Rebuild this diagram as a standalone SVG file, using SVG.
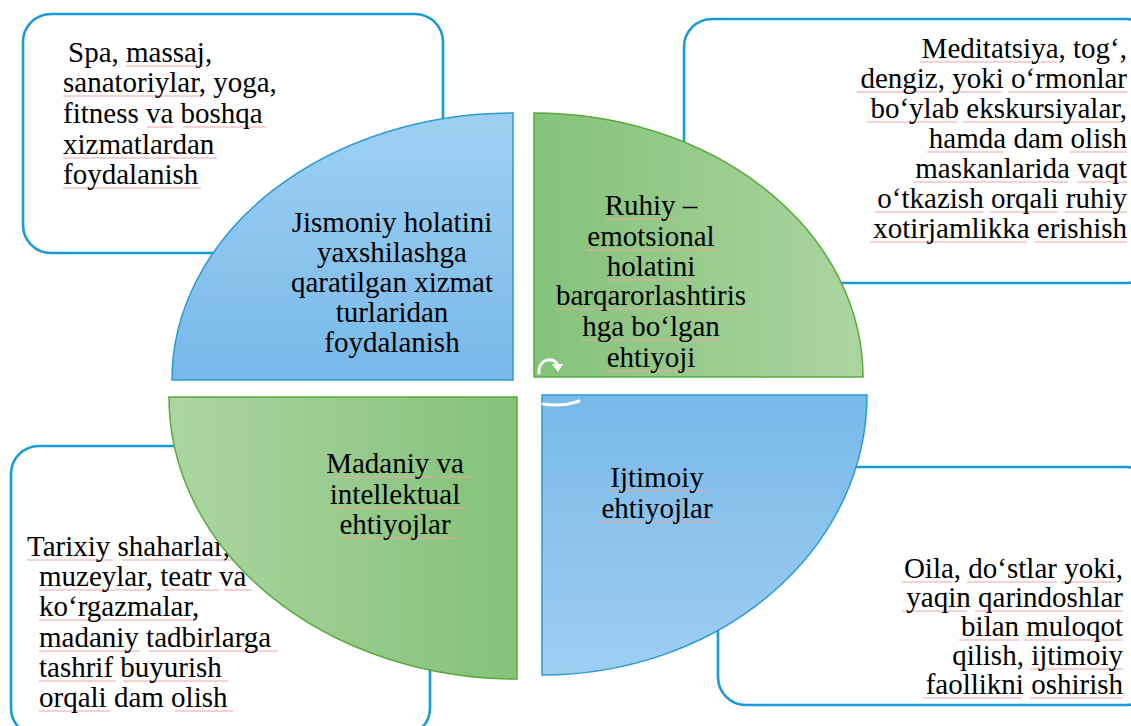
<svg xmlns="http://www.w3.org/2000/svg" width="1131" height="726" viewBox="0 0 1131 726">
<defs>
<linearGradient id="gBlueDown" x1="0" y1="0" x2="0" y2="1">
<stop offset="0" stop-color="#9fd0f3"/><stop offset="1" stop-color="#78b9e8"/>
</linearGradient>
<linearGradient id="gBlueUp" x1="0" y1="0" x2="0" y2="1">
<stop offset="0" stop-color="#78b9e8"/><stop offset="1" stop-color="#9fcdf2"/>
</linearGradient>
<linearGradient id="gGreenR" x1="0" y1="0" x2="1" y2="0">
<stop offset="0" stop-color="#84c279"/><stop offset="1" stop-color="#abd5a0"/>
</linearGradient>
<linearGradient id="gGreenL" x1="0" y1="0" x2="1" y2="0">
<stop offset="0" stop-color="#abd5a0"/><stop offset="1" stop-color="#84c279"/>
</linearGradient>
</defs>
<style>
.box{fill:#ffffff;stroke:#1a9bd7;stroke-width:2.6}
.blue{stroke:#2a9ad6;stroke-width:1.5}
.green{stroke:#5aab3c;stroke-width:1.5}
.t{font-size:29px;fill:#000000}
.c{text-anchor:middle}
.r{text-anchor:end}
.sp{fill:none;stroke:#f0a3a3;stroke-width:1}
.icon{fill:none;stroke:#ffffff;stroke-width:3;stroke-linecap:round}
</style>

<g id="box-physical" font-family="Liberation Serif, DejaVu Serif, serif">
<rect class="box" x="23" y="14" width="420" height="239" rx="28"/>
<path class="sp" d="M126,66H204M63,96H202M147,127H173M183,127H266M63,158H217M63,188H201"/>
<text class="t" x="68" y="62">Spa, massaj,</text>
<text class="t" x="63" y="92">sanatoriylar, yoga,</text>
<text class="t" x="63" y="123">fitness va boshqa</text>
<text class="t" x="63" y="154">xizmatlardan</text>
<text class="t" x="63" y="184">foydalanish</text>
</g>

<g id="box-mental" font-family="Liberation Serif, DejaVu Serif, serif">
<rect class="box" x="684" y="19" width="470" height="264" rx="28"/>
<path class="sp" d="M920,62H1057M857,92H937M950,92H1002M1008,92H1127M867,122H957M963,122H1120M927,152H1003M1070,152H1127M913,182H1068M1077,182H1127M875,212H983M990,212H1058M1065,212H1127M870,242H1027M1035,242H1127"/>
<text class="t r" x="1127" y="58">Meditatsiya, tog‘,</text>
<text class="t r" x="1127" y="88">dengiz, yoki o‘rmonlar</text>
<text class="t r" x="1127" y="118">bo‘ylab ekskursiyalar,</text>
<text class="t r" x="1127" y="148">hamda dam olish</text>
<text class="t r" x="1127" y="178">maskanlarida vaqt</text>
<text class="t r" x="1127" y="208">o‘tkazish orqali ruhiy</text>
<text class="t r" x="1127" y="238">xotirjamlikka erishish</text>
</g>

<g id="box-cultural" font-family="Liberation Serif, DejaVu Serif, serif">
<rect class="box" x="11" y="446" width="419" height="290" rx="28"/>
<path class="sp" d="M27,560H113M122,560H240M39,590H151M164,590H219M224,590H252M39,620H197M39,651H140M149,651H278M39,681H116M123,681H228M39,711H110M175,711H233"/>
<text class="t" x="27" y="556">Tarixiy shaharlar,</text>
<text class="t" x="39" y="586">muzeylar, teatr va</text>
<text class="t" x="39" y="616">ko‘rgazmalar,</text>
<text class="t" x="39" y="647">madaniy tadbirlarga</text>
<text class="t" x="39" y="677">tashrif buyurish</text>
<text class="t" x="39" y="707">orqali dam olish</text>
</g>

<g id="box-social" font-family="Liberation Serif, DejaVu Serif, serif">
<rect class="box" x="718" y="467" width="436" height="238" rx="28"/>
<path class="sp" d="M902,582H952M967,582H1057M1061,582H1115M902,611H967M975,611H1123M959,640H1019M1024,640H1123M1030,669H1123M923,698H1022M1030,698H1123"/>
<text class="t r" x="1123" y="578">Oila, do‘stlar yoki,</text>
<text class="t r" x="1123" y="607">yaqin qarindoshlar</text>
<text class="t r" x="1123" y="636">bilan muloqot</text>
<text class="t r" x="1123" y="665">qilish, ijtimoiy</text>
<text class="t r" x="1123" y="694">faollikni oshirish</text>
</g>

<g id="q-physical" font-family="Liberation Serif, DejaVu Serif, serif">
<path class="blue" fill="url(#gBlueDown)" d="M513,380 L172,380 A341,267 0 0 1 513,113 Z"/>
<text class="t c" x="392" y="232">Jismoniy holatini</text>
<text class="t c" x="392" y="262">yaxshilashga</text>
<text class="t c" x="392" y="292">qaratilgan xizmat</text>
<text class="t c" x="392" y="322">turlaridan</text>
<text class="t c" x="392" y="352">foydalanish</text>
</g>

<g id="q-mental" font-family="Liberation Serif, DejaVu Serif, serif">
<path class="green" fill="url(#gGreenR)" d="M534,377 L534,113 A329,264 0 0 1 863,377 Z"/>
<path class="sp" d="M604,219H675M586,250H714M606,280H696M555,309H747M581,340H623M630,340H720M606,371H696"/>
<text class="t c" x="651" y="215">Ruhiy –</text>
<text class="t c" x="651" y="246">emotsional</text>
<text class="t c" x="651" y="276">holatini</text>
<text class="t c" x="651" y="305">barqarorlashtiris</text>
<text class="t c" x="651" y="336">hga bo‘lgan</text>
<text class="t c" x="651" y="367">ehtiyoji</text>
<path class="icon" d="M539,373 C538,359 554,355 558,366"/>
<path fill="#ffffff" d="M552,364 L563,364 L558,372 Z"/>
</g>

<g id="q-cultural" font-family="Liberation Serif, DejaVu Serif, serif">
<path class="green" fill="url(#gGreenL)" d="M169,397 L517,397 L517,679 A348,282 0 0 1 169,397 Z"/>
<path class="sp" d="M329,477H435M442,477H470M332,508H466M342,538H457"/>
<text class="t c" x="395" y="473">Madaniy va</text>
<text class="t c" x="395" y="504">intellektual</text>
<text class="t c" x="395" y="534">ehtiyojlar</text>
</g>

<g id="q-social" font-family="Liberation Serif, DejaVu Serif, serif">
<path class="blue" fill="url(#gBlueUp)" d="M542,395 L867,395 A325,280 0 0 1 542,675 Z"/>
<path class="sp" d="M607,491H708M596,522H718"/>
<text class="t c" x="657" y="487">Ijtimoiy</text>
<text class="t c" x="657" y="518">ehtiyojlar</text>
<path class="icon" d="M543,404 Q563,407 579,401"/>
</g>

<g id="connectors"></g>
</svg>
